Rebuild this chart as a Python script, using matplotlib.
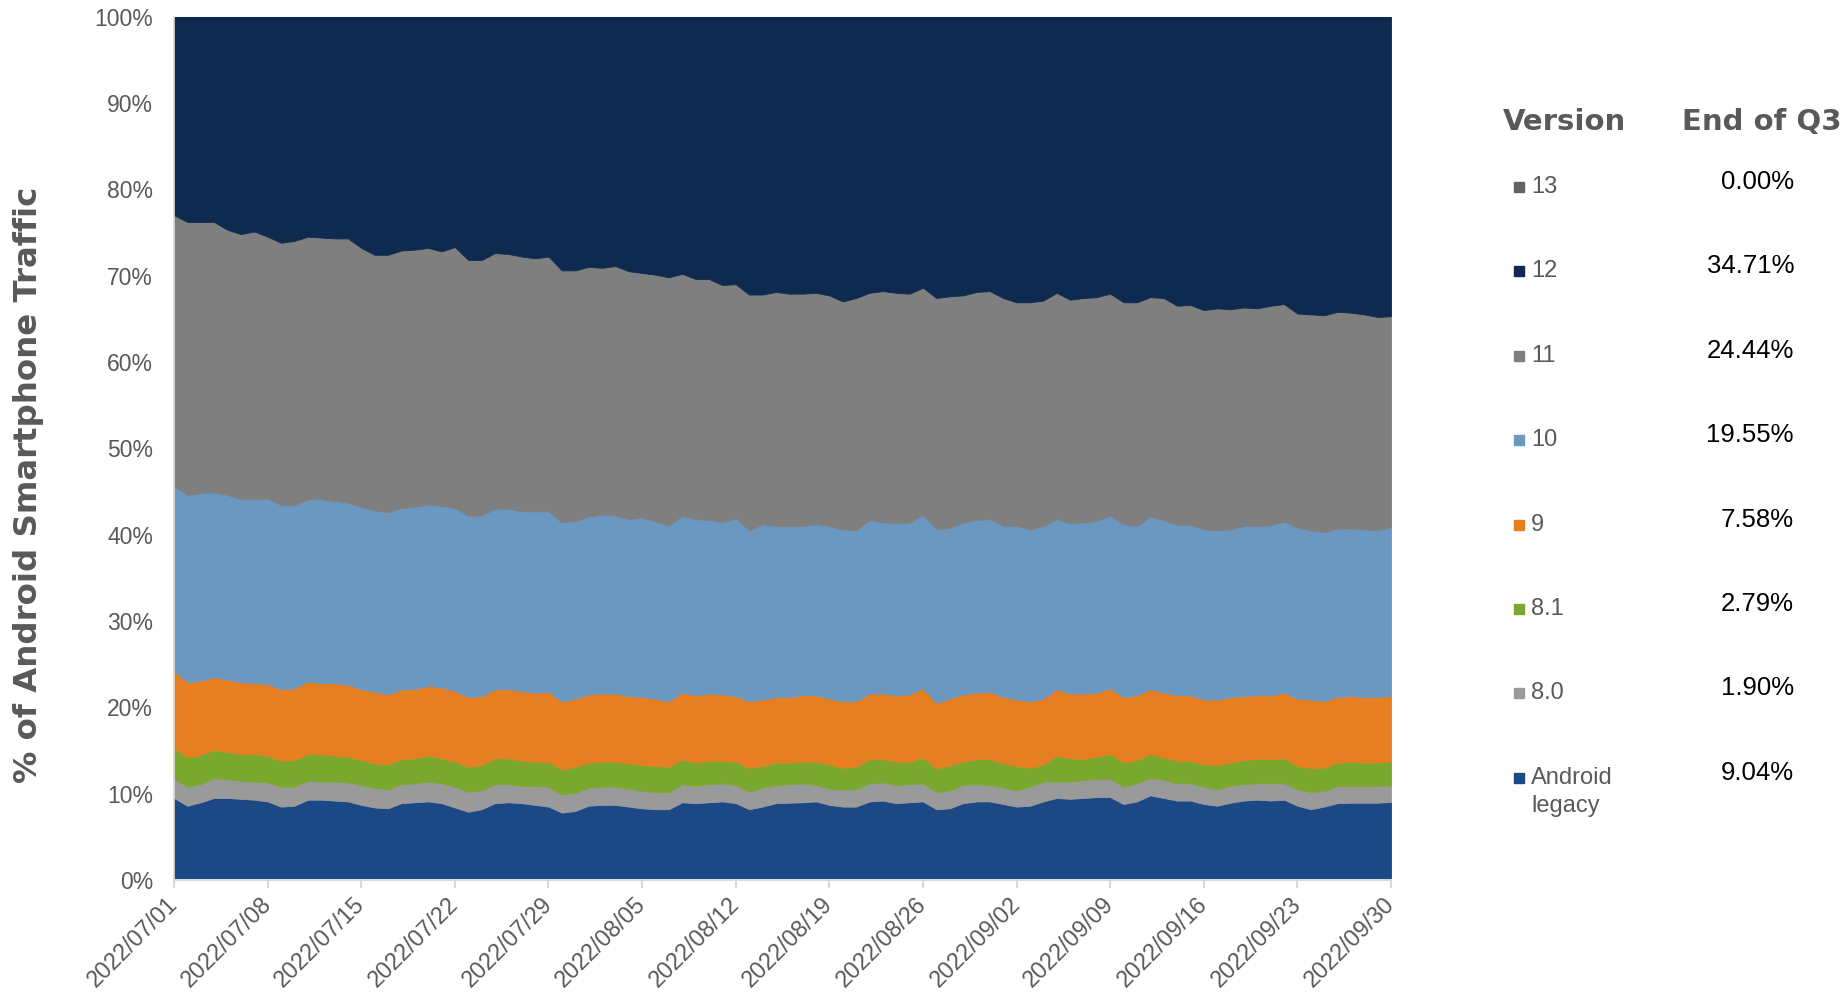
import numpy as np
import matplotlib
matplotlib.use('Agg')
import matplotlib.pyplot as plt
from matplotlib.patches import Rectangle
from matplotlib.ticker import FuncFormatter

# Android version share of smartphone traffic, daily, Q3 2022
# each array is the cumulative top edge (%) of that version's band
days = np.arange(92)
tick_labels = ['2022/07/01', '2022/07/08', '2022/07/15', '2022/07/22',
               '2022/07/29', '2022/08/05', '2022/08/12', '2022/08/19',
               '2022/08/26', '2022/09/02', '2022/09/09', '2022/09/16',
               '2022/09/23', '2022/09/30']

top_legacy = [9.5, 8.6, 9.0, 9.5, 9.5, 9.4, 9.3, 9.1, 8.5, 8.6, 9.3, 9.3, 9.2, 9.1, 8.7, 8.4,
              8.3, 8.9, 9.0, 9.1, 8.9, 8.4, 7.9, 8.2, 8.9, 9.0, 8.9, 8.7, 8.5, 7.8, 8.0, 8.6,
              8.7, 8.7, 8.5, 8.3, 8.2, 8.2, 9.0, 8.9, 9.0, 9.1, 8.9, 8.2, 8.5, 8.9,
              8.95, 9.0, 9.1, 8.7, 8.5, 8.5, 9.1, 9.2, 8.9, 9.0, 9.1, 8.2, 8.3, 8.9, 9.1, 9.1,
              8.8, 8.5, 8.6, 9.1, 9.5, 9.4, 9.5, 9.6, 9.6, 8.8, 9.1, 9.8, 9.5, 9.2, 9.2, 8.8,
              8.6, 8.95, 9.2, 9.3, 9.2, 9.3, 8.6, 8.2, 8.5, 8.9, 8.95, 8.95, 8.95, 9.04]
top_80 = [11.7, 10.8, 11.1, 11.8, 11.7, 11.5, 11.4, 11.3, 10.8, 10.8, 11.5, 11.4, 11.4, 11.3, 11.0, 10.7,
          10.5, 11.1, 11.2, 11.4, 11.2, 10.8, 10.2, 10.4, 11.1, 11.1, 10.9, 10.9, 10.8, 9.9, 10.1, 10.7,
          10.8, 10.8, 10.6, 10.3, 10.2, 10.2, 11.1, 10.9, 11.1, 11.2, 11.0, 10.2, 10.7, 11.0,
          11.1, 11.2, 11.0, 10.6, 10.5, 10.5, 11.2, 11.3, 11.0, 11.1, 11.2, 10.2, 10.4, 11.0, 11.1, 11.0,
          10.7, 10.4, 10.8, 11.4, 11.4, 11.4, 11.6, 11.7, 11.7, 10.8, 11.2, 11.8, 11.6, 11.2, 11.2, 10.8,
          10.5, 10.9, 11.1, 11.2, 11.2, 11.2, 10.5, 10.2, 10.3, 10.9, 10.9, 10.9, 10.9, 10.94]
top_81 = [15.3, 14.2, 14.5, 15.1, 14.8, 14.6, 14.6, 14.4, 13.8, 13.9, 14.6, 14.6, 14.4, 14.3, 13.9, 13.5,
          13.4, 14.0, 14.1, 14.4, 14.1, 13.7, 13.1, 13.3, 14.1, 14.1, 13.8, 13.7, 13.7, 12.8, 13.1, 13.6,
          13.7, 13.7, 13.5, 13.3, 13.2, 13.1, 14.0, 13.6, 13.8, 13.8, 13.7, 13.0, 13.2, 13.6,
          13.6, 13.7, 13.7, 13.4, 13.0, 13.1, 14.0, 14.0, 13.7, 13.7, 14.2, 12.9, 13.3, 13.7, 14.0, 14.0,
          13.5, 13.2, 13.0, 13.4, 14.4, 14.1, 14.0, 14.3, 14.6, 13.6, 13.9, 14.6, 14.2, 13.8, 13.8, 13.4,
          13.3, 13.6, 13.9, 14.0, 14.0, 14.1, 13.2, 13.0, 13.0, 13.6, 13.7, 13.6, 13.6, 13.73]
top_9 = [24.2, 22.9, 23.1, 23.5, 23.2, 22.9, 22.8, 22.7, 22.1, 22.2, 23.0, 22.8, 22.8, 22.6, 22.1, 21.8,
         21.5, 22.1, 22.1, 22.5, 22.3, 21.9, 21.2, 21.3, 22.1, 22.1, 21.9, 21.7, 21.8, 20.7, 21.0, 21.5,
         21.6, 21.6, 21.3, 21.2, 21.0, 20.7, 21.7, 21.4, 21.6, 21.5, 21.3, 20.7, 20.9, 21.2,
         21.2, 21.4, 21.4, 21.0, 20.7, 20.7, 21.6, 21.6, 21.4, 21.5, 22.2, 20.5, 21.0, 21.5, 21.7, 21.8,
         21.2, 20.9, 20.7, 21.0, 22.1, 21.6, 21.6, 21.7, 22.2, 21.2, 21.4, 22.1, 21.7, 21.4, 21.4, 20.9,
         20.9, 21.2, 21.3, 21.4, 21.4, 21.7, 21.0, 20.9, 20.7, 21.2, 21.3, 21.2, 21.2, 21.31]
top_10 = [45.6, 44.6, 44.8, 44.9, 44.6, 44.1, 44.1, 44.2, 43.4, 43.4, 44.1, 44.1, 43.9, 43.7, 43.2, 42.8,
          42.6, 43.1, 43.2, 43.5, 43.3, 43.1, 42.2, 42.2, 43.0, 43.0, 42.7, 42.7, 42.7, 41.4, 41.6, 42.1,
          42.3, 42.2, 41.8, 42.0, 41.5, 41.1, 42.2, 41.8, 41.7, 41.4, 41.9, 40.5, 41.2, 41.0,
          41.0, 41.0, 41.2, 41.0, 40.6, 40.5, 41.7, 41.4, 41.3, 41.4, 42.3, 40.6, 40.8, 41.4, 41.7, 41.8,
          41.0, 41.0, 40.6, 41.0, 41.8, 41.3, 41.4, 41.6, 42.2, 41.2, 41.0, 42.1, 41.7, 41.1, 41.1, 40.6,
          40.5, 40.6, 41.0, 41.0, 41.1, 41.5, 40.8, 40.5, 40.3, 40.7, 40.7, 40.6, 40.5, 40.86]
top_11 = [77.0, 76.2, 76.2, 76.2, 75.3, 74.8, 75.1, 74.5, 73.8, 74.0, 74.5, 74.4, 74.3, 74.3, 73.2, 72.4,
          72.4, 72.9, 73.0, 73.2, 72.8, 73.3, 71.8, 71.8, 72.6, 72.5, 72.2, 72.0, 72.2, 70.6, 70.6, 71.0,
          70.9, 71.1, 70.5, 70.3, 70.1, 69.8, 70.2, 69.6, 69.6, 68.9, 69.0, 67.8, 67.8, 68.1,
          67.9, 67.9, 68.0, 67.7, 67.0, 67.4, 68.0, 68.2, 68.0, 67.9, 68.6, 67.4, 67.6, 67.7, 68.1, 68.2,
          67.4, 66.9, 66.9, 67.1, 68.0, 67.2, 67.4, 67.5, 67.9, 66.9, 66.9, 67.5, 67.4, 66.5, 66.6, 66.0,
          66.2, 66.1, 66.3, 66.2, 66.5, 66.7, 65.6, 65.5, 65.4, 65.8, 65.7, 65.5, 65.2, 65.3]
top_12 = [100.0] * 92

# legend table (top to bottom)
versions = ['13', '12', '11', '10', '9', '8.1', '8.0', 'Android\nlegacy']
end_q3 = ['0.00%', '34.71%', '24.44%', '19.55%', '7.58%', '2.79%', '1.90%', '9.04%']
colors = ['#636363', '#0f2a4f', '#7f7f7f', '#6a98c1', '#e67f22', '#7aa82f', '#9a9a9a', '#1c4886']

W, H = 1845, 998
fig = plt.figure(figsize=(W / 100, H / 100), dpi=100)
ax = fig.add_axes([174 / W, 1 - 880 / H, (1391 - 174) / W, (880 - 16.5) / H])

# stack the bands from the bottom up
bands = [top_legacy, top_80, top_81, top_9, top_10, top_11, top_12]
band_colors = ['#1c4886', '#9a9a9a', '#7aa82f', '#e67f22', '#6a98c1', '#7f7f7f', '#0f2a4f']
lower = np.zeros(92)
for top, c in zip(bands, band_colors):
    top = np.array(top)
    ax.fill_between(days, lower, top, color=c, linewidth=0.6, edgecolor=c)
    lower = top

ax.set_xlim(0, 91)
ax.set_ylim(0, 100)
ax.set_yticks(np.arange(0, 101, 10))
ax.yaxis.set_major_formatter(FuncFormatter(lambda v, p: '%d%%' % v))
ax.set_xticks(np.arange(0, 92, 7))
ax.set_xticklabels(tick_labels, rotation=45, ha='right', va='center',
                   rotation_mode='anchor')

for s in ['top', 'right']:
    ax.spines[s].set_visible(False)
ax.spines['left'].set_color('#d9d9d9')
ax.spines['bottom'].set_color('#d9d9d9')
ax.spines['left'].set_linewidth(1.2)
ax.spines['bottom'].set_linewidth(1.5)
ax.tick_params(axis='y', length=0, pad=15, labelsize=16.5, labelcolor='#595959',
               labelfontfamily='Liberation Sans')
ax.tick_params(axis='x', length=6, width=1.5, color='#d9d9d9', pad=9, labelsize=16.8,
               labelcolor='#595959', labelfontfamily='Liberation Sans')

fig.text(29 / W, 1 - 485 / H, '% of Android Smartphone Traffic', rotation=90,
         ha='center', va='center', fontsize=23.3, fontweight='bold', color='#595959',
         family='DejaVu Sans')

# side table
fig.text(1564 / W, 1 - 122 / H, 'Version', ha='center', va='center', fontsize=21,
         fontweight='bold', color='#595959', family='DejaVu Sans')
fig.text(1762 / W, 1 - 122 / H, 'End of Q3', ha='center', va='center', fontsize=21,
         fontweight='bold', color='#595959', family='DejaVu Sans')
for i, (v, pct, c) in enumerate(zip(versions, end_q3, colors)):
    yc = 187 + 84.4 * i
    fig.add_artist(Rectangle((1514 / W, 1 - (yc + 5) / H), 10 / W, 10 / H,
                             transform=fig.transFigure, color=c))
    if '\n' in v:
        fig.text(1531 / W, 1 - (yc + 14) / H, v, ha='left', va='center', fontsize=17,
                 color='#595959', family='Liberation Sans', linespacing=1.35)
    else:
        fig.text(1531 / W, 1 - yc / H, v, ha='left', va='center', fontsize=17,
                 color='#595959', family='Liberation Sans')
    fig.text(1794 / W, 1 - (yc - 5) / H, pct, ha='right', va='center', fontsize=18.5,
             color='black', family='Liberation Sans')

fig.savefig('out.png', dpi=100)
